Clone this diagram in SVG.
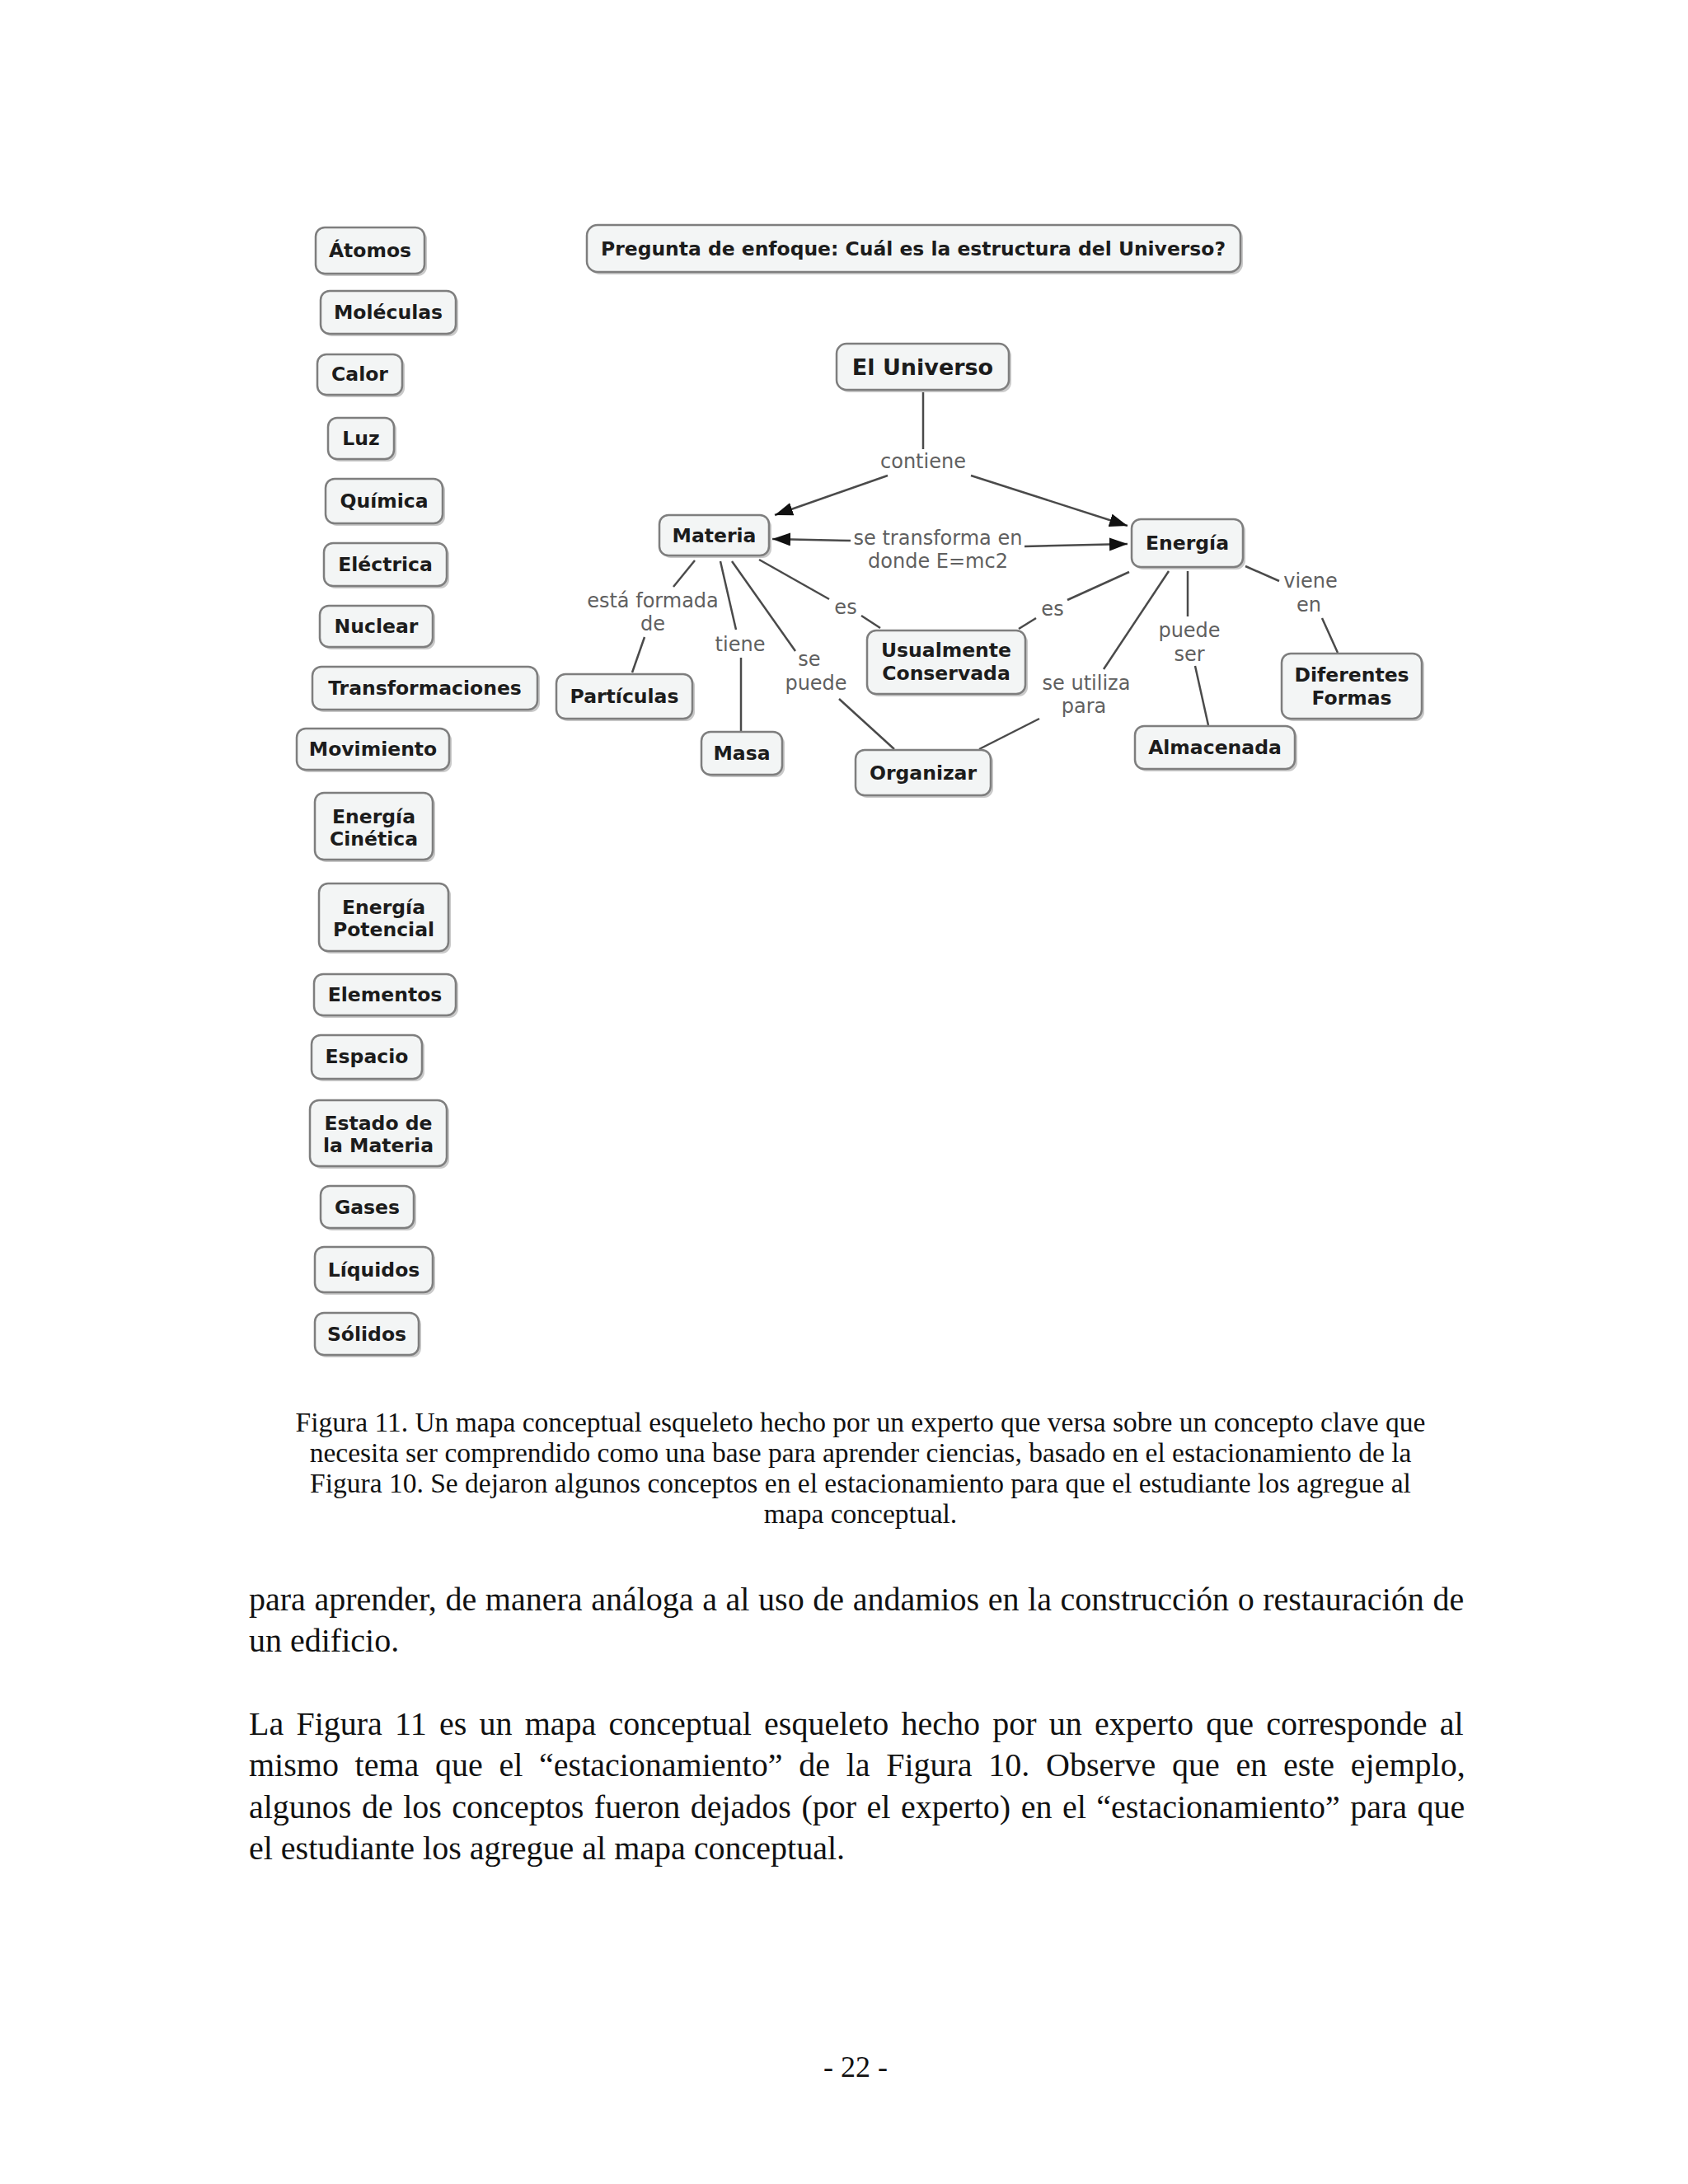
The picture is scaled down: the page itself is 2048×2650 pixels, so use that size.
<svg xmlns="http://www.w3.org/2000/svg" width="2048" height="2650" viewBox="0 0 2048 2650">
<defs>
<style>
.bg{fill:#ffffff}
.sh{fill:#c9c9c9}
.box{fill:#f3f5f5;stroke:#7e7e7e;stroke-width:2.5}
.c{font-family:"DejaVu Sans","Verdana",sans-serif;font-weight:bold;font-size:23.5px;fill:#1c1c1c;text-anchor:middle}
.l{font-family:"DejaVu Sans",sans-serif;font-size:24px;fill:#606060;text-anchor:middle}
.ln{stroke:#4a4a4a;stroke-width:2.5;fill:none}
.cap{font-family:"Liberation Serif","Times New Roman",serif;font-size:33.5px;fill:#111111;text-anchor:middle}
.body{font-family:"Liberation Serif","Times New Roman",serif;font-size:40px;fill:#111111}
</style>
<marker id="arr" markerUnits="userSpaceOnUse" markerWidth="22" markerHeight="16" refX="22" refY="8" orient="auto">
<path d="M0,0 L22,8 L0,16 z" fill="#111111"/>
</marker>
</defs>
<rect class="bg" x="0" y="0" width="2048" height="2650"/>

<!-- parking lot -->
<g id="n-atomos"><rect class="sh" x="386" y="279" width="132" height="56" rx="11"/><rect class="box" x="383" y="276" width="132" height="56" rx="11"/><text class="c" x="449" y="312">Átomos</text></g>
<g id="n-moleculas"><rect class="sh" x="392" y="356" width="164" height="52" rx="11"/><rect class="box" x="389" y="353" width="164" height="52" rx="11"/><text class="c" x="471" y="387">Moléculas</text></g>
<g id="n-calor"><rect class="sh" x="388" y="433" width="103" height="49" rx="11"/><rect class="box" x="385" y="430" width="103" height="49" rx="11"/><text class="c" x="436.5" y="462">Calor</text></g>
<g id="n-luz"><rect class="sh" x="401" y="510" width="80" height="50" rx="11"/><rect class="box" x="398" y="507" width="80" height="50" rx="11"/><text class="c" x="438" y="540">Luz</text></g>
<g id="n-quimica"><rect class="sh" x="398" y="584" width="142" height="54" rx="11"/><rect class="box" x="395" y="581" width="142" height="54" rx="11"/><text class="c" x="466" y="616">Química</text></g>
<g id="n-electrica"><rect class="sh" x="396" y="662" width="149" height="52" rx="11"/><rect class="box" x="393" y="659" width="149" height="52" rx="11"/><text class="c" x="467.5" y="693">Eléctrica</text></g>
<g id="n-nuclear"><rect class="sh" x="391" y="738" width="137" height="50" rx="11"/><rect class="box" x="388" y="735" width="137" height="50" rx="11"/><text class="c" x="456.5" y="768">Nuclear</text></g>
<g id="n-transformaciones"><rect class="sh" x="382" y="812" width="273" height="52" rx="11"/><rect class="box" x="379" y="809" width="273" height="52" rx="11"/><text class="c" x="515.5" y="843">Transformaciones</text></g>
<g id="n-movimiento"><rect class="sh" x="363" y="887" width="185" height="50" rx="11"/><rect class="box" x="360" y="884" width="185" height="50" rx="11"/><text class="c" x="452.5" y="917">Movimiento</text></g>
<g id="n-energia-cinetica"><rect class="sh" x="385" y="965" width="143" height="81" rx="11"/><rect class="box" x="382" y="962" width="143" height="81" rx="11"/><text class="c" x="453.5" y="999">Energía</text><text class="c" x="453.5" y="1026">Cinética</text></g>
<g id="n-energia-potencial"><rect class="sh" x="390" y="1075" width="157" height="82" rx="11"/><rect class="box" x="387" y="1072" width="157" height="82" rx="11"/><text class="c" x="465.5" y="1109">Energía</text><text class="c" x="465.5" y="1136">Potencial</text></g>
<g id="n-elementos"><rect class="sh" x="384" y="1185" width="172" height="50" rx="11"/><rect class="box" x="381" y="1182" width="172" height="50" rx="11"/><text class="c" x="467" y="1215">Elementos</text></g>
<g id="n-espacio"><rect class="sh" x="381" y="1259" width="134" height="53" rx="11"/><rect class="box" x="378" y="1256" width="134" height="53" rx="11"/><text class="c" x="445" y="1290">Espacio</text></g>
<g id="n-estado-materia"><rect class="sh" x="379" y="1338" width="166" height="80" rx="11"/><rect class="box" x="376" y="1335" width="166" height="80" rx="11"/><text class="c" x="459" y="1371">Estado de</text><text class="c" x="459" y="1398">la Materia</text></g>
<g id="n-gases"><rect class="sh" x="392" y="1442" width="113" height="51" rx="11"/><rect class="box" x="389" y="1439" width="113" height="51" rx="11"/><text class="c" x="445.5" y="1473">Gases</text></g>
<g id="n-liquidos"><rect class="sh" x="385" y="1516" width="143" height="55" rx="11"/><rect class="box" x="382" y="1513" width="143" height="55" rx="11"/><text class="c" x="453.5" y="1549">Líquidos</text></g>
<g id="n-solidos"><rect class="sh" x="385" y="1596" width="126" height="51" rx="11"/><rect class="box" x="382" y="1593" width="126" height="51" rx="11"/><text class="c" x="445" y="1627">Sólidos</text></g>

<!-- focus question -->
<g id="n-pregunta"><rect class="sh" x="715" y="276" width="793" height="57" rx="13"/><rect class="box" x="712" y="273" width="793" height="57" rx="13"/><text class="c" x="1108" y="310" textLength="758" lengthAdjust="spacingAndGlyphs">Pregunta de enfoque: Cuál es la estructura del Universo?</text></g>

<!-- connectors -->
<g id="connectors">
<line class="ln" x1="1120" y1="473" x2="1120" y2="545"/>
<line class="ln" x1="1077" y1="577" x2="940" y2="625" marker-end="url(#arr)"/>
<line class="ln" x1="1178" y1="577" x2="1368" y2="638" marker-end="url(#arr)"/>
<line class="ln" x1="1032" y1="656" x2="937" y2="654" marker-end="url(#arr)"/>
<line class="ln" x1="1243" y1="663" x2="1368" y2="660" marker-end="url(#arr)"/>
<line class="ln" x1="843" y1="680" x2="817" y2="712"/>
<line class="ln" x1="782" y1="773" x2="767" y2="816"/>
<line class="ln" x1="874" y1="681" x2="893" y2="764"/>
<line class="ln" x1="899" y1="798" x2="899" y2="887"/>
<line class="ln" x1="888" y1="681" x2="965" y2="790"/>
<line class="ln" x1="1018" y1="848" x2="1085" y2="909"/>
<line class="ln" x1="921" y1="679" x2="1006" y2="727"/>
<line class="ln" x1="1045" y1="747" x2="1068" y2="762"/>
<line class="ln" x1="1370" y1="694" x2="1295" y2="728"/>
<line class="ln" x1="1257" y1="750" x2="1236" y2="763"/>
<line class="ln" x1="1418" y1="693" x2="1339" y2="812"/>
<line class="ln" x1="1261" y1="872" x2="1188" y2="909"/>
<line class="ln" x1="1441" y1="693" x2="1441" y2="748"/>
<line class="ln" x1="1450" y1="808" x2="1466" y2="880"/>
<line class="ln" x1="1511" y1="687" x2="1552" y2="705"/>
<line class="ln" x1="1604" y1="750" x2="1623" y2="792"/>
</g>

<!-- link labels -->
<g id="labels">
<text class="l" x="1120" y="568">contiene</text>
<text class="l" x="1138" y="661">se transforma en</text>
<text class="l" x="1138" y="689">donde E=mc2</text>
<text class="l" x="792" y="737">está formada</text>
<text class="l" x="792" y="765">de</text>
<text class="l" x="898" y="790">tiene</text>
<text class="l" x="982" y="808">se</text>
<text class="l" x="990" y="837">puede</text>
<text class="l" x="1026" y="745">es</text>
<text class="l" x="1277" y="747">es</text>
<text class="l" x="1318" y="837">se utiliza</text>
<text class="l" x="1315" y="865">para</text>
<text class="l" x="1443" y="773">puede</text>
<text class="l" x="1443" y="802">ser</text>
<text class="l" x="1590" y="713">viene</text>
<text class="l" x="1588" y="742">en</text>
</g>

<!-- map concepts -->
<g id="n-universo"><rect class="sh" x="1018" y="420" width="209" height="56" rx="12"/><rect class="box" x="1015" y="417" width="209" height="56" rx="12"/><text class="c" x="1119.5" y="455" style="font-size:27px">El Universo</text></g>
<g id="n-materia"><rect class="sh" x="803" y="628" width="133" height="49" rx="11"/><rect class="box" x="800" y="625" width="133" height="49" rx="11"/><text class="c" x="866.5" y="658">Materia</text></g>
<g id="n-energia"><rect class="sh" x="1376" y="633" width="135" height="58" rx="11"/><rect class="box" x="1373" y="630" width="135" height="58" rx="11"/><text class="c" x="1440.5" y="667">Energía</text></g>
<g id="n-particulas"><rect class="sh" x="678" y="821" width="165" height="54" rx="11"/><rect class="box" x="675" y="818" width="165" height="54" rx="11"/><text class="c" x="757.5" y="853">Partículas</text></g>
<g id="n-masa"><rect class="sh" x="854" y="891" width="98" height="52" rx="11"/><rect class="box" x="851" y="888" width="98" height="52" rx="11"/><text class="c" x="900" y="922">Masa</text></g>
<g id="n-usualmente"><rect class="sh" x="1055" y="768" width="192" height="77" rx="11"/><rect class="box" x="1052" y="765" width="192" height="77" rx="11"/><text class="c" x="1148" y="797">Usualmente</text><text class="c" x="1148" y="825">Conservada</text></g>
<g id="n-organizar"><rect class="sh" x="1041" y="913" width="164" height="55" rx="11"/><rect class="box" x="1038" y="910" width="164" height="55" rx="11"/><text class="c" x="1120" y="946">Organizar</text></g>
<g id="n-almacenada"><rect class="sh" x="1380" y="884" width="194" height="52" rx="11"/><rect class="box" x="1377" y="881" width="194" height="52" rx="11"/><text class="c" x="1474" y="915">Almacenada</text></g>
<g id="n-diferentes"><rect class="sh" x="1558" y="796" width="170" height="79" rx="11"/><rect class="box" x="1555" y="793" width="170" height="79" rx="11"/><text class="c" x="1640" y="827">Diferentes</text><text class="c" x="1640" y="855">Formas</text></g>

<!-- caption -->
<g id="caption">
<text class="cap" x="1044" y="1737">Figura 11. Un mapa conceptual esqueleto hecho por un experto que versa sobre un concepto clave que</text>
<text class="cap" x="1044" y="1774">necesita ser comprendido como una base para aprender ciencias, basado en el estacionamiento de la</text>
<text class="cap" x="1044" y="1811">Figura 10. Se dejaron algunos conceptos en el estacionamiento para que el estudiante los agregue al</text>
<text class="cap" x="1044" y="1848">mapa conceptual.</text>
</g>

<!-- body text -->
<g id="body">
<text class="body" x="302" y="1954" word-spacing="0.65">para aprender, de manera análoga a al uso de andamios en la construcción o restauración de</text>
<text class="body" x="302" y="2004">un edificio.</text>
<text class="body" x="302" y="2105" word-spacing="5.25">La Figura 11 es un mapa conceptual esqueleto hecho por un experto que corresponde al</text>
<text class="body" x="302" y="2155" word-spacing="9.7">mismo tema que el “estacionamiento” de la Figura 10. Observe que en este ejemplo,</text>
<text class="body" x="302" y="2206" word-spacing="2.5">algunos de los conceptos fueron dejados (por el experto) en el “estacionamiento” para que</text>
<text class="body" x="302" y="2256">el estudiante los agregue al mapa conceptual.</text>
<text class="body" x="1038" y="2520" text-anchor="middle" style="font-size:36px">- 22 -</text>
</g>
</svg>
